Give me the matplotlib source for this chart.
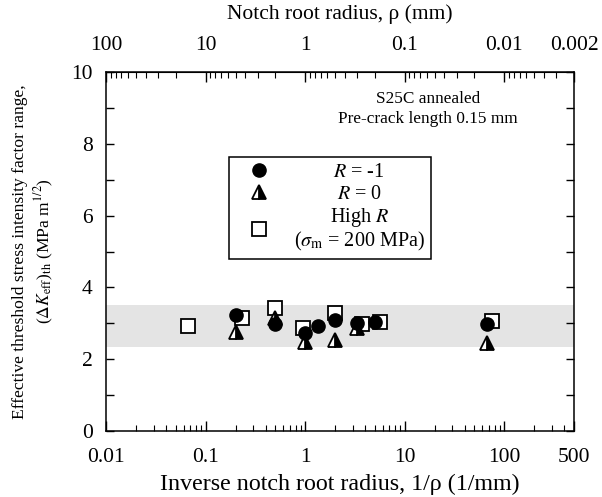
import matplotlib
matplotlib.use("Agg")
import matplotlib.pyplot as plt
from matplotlib.ticker import FixedLocator, LogLocator, NullFormatter, FixedFormatter, MultipleLocator
from matplotlib.lines import Line2D

plt.rcParams['font.family'] = ['Liberation Serif', 'DejaVu Serif']
plt.rcParams['mathtext.fontset'] = 'stix'
plt.rcParams['font.size'] = 14

# Data
circ_x = [0.2, 0.5, 1.0, 1.35, 2.0, 3.3, 5.0, 67]
circ_y = [3.22, 2.98, 2.72, 2.92, 3.08, 3.02, 3.05, 2.98]
tri_x = [0.2, 0.5, 1.0, 2.0, 3.3, 67]
tri_y = [2.77, 3.15, 2.47, 2.53, 2.87, 2.45]
sq_x = [0.067, 0.23, 0.5, 0.95, 2.0, 3.7, 5.6, 75]
sq_y = [2.93, 3.14, 3.43, 2.87, 3.28, 2.98, 3.04, 3.06]
band_lo, band_hi = 2.35, 3.5
bottom_ticks = [0.01, 0.1, 1, 10, 100, 500]
bottom_labels = ['0.01', '0.1', '1', '10', '100', '500']
top_ticks = [100, 10, 1, 0.1, 0.01, 0.002]
top_labels = ['100', '10', '1', '0.1', '0.01', '0.002']

TICK_FS = 15.5
fig = plt.figure(figsize=(6.02, 4.97), dpi=100)
W, H = 602, 497
L, R, T, B = 106, 574, 72, 431
ax = fig.add_axes([L / W, 1 - B / H, (R - L) / W, (B - T) / H])

ax.axhspan(band_lo, band_hi, color='#e4e4e4', lw=0, zorder=0)

ms = 9.5
ax.plot(sq_x, sq_y, ls='none', marker='s', ms=ms, mfc='white', mec='black', mew=1.3, zorder=3)
ax.plot(tri_x, tri_y, ls='none', marker='^', ms=ms + 1, mfc='black', mfcalt='white', fillstyle='right',
        mec='black', mew=1.3, zorder=4)
ax.plot(circ_x, circ_y, ls='none', marker='o', ms=ms, mfc='black', mec='black', zorder=5)

ax.set_xscale('log')
ax.set_xlim(0.01, 500)
ax.set_ylim(0, 10)
ax.xaxis.set_major_locator(FixedLocator(bottom_ticks))
ax.xaxis.set_major_formatter(FixedFormatter(bottom_labels))
ax.xaxis.set_minor_locator(LogLocator(base=10, subs=range(2, 10), numticks=20))
ax.xaxis.set_minor_formatter(NullFormatter())
ax.yaxis.set_major_locator(MultipleLocator(2))
ax.yaxis.set_minor_locator(MultipleLocator(1))
ax.tick_params(which='both', direction='in', top=False, right=True, labelsize=TICK_FS)
ax.tick_params(axis='x', which='major', length=7, width=1, pad=12)
ax.tick_params(axis='x', which='minor', length=4, width=0.8)
ax.tick_params(axis='y', which='both', length=6, width=1, pad=9.5)
for s in ax.spines.values():
    s.set_linewidth(1.1)

sec = ax.secondary_xaxis('top', functions=(lambda x: 1 / x, lambda x: 1 / x))
sec.xaxis.set_major_locator(FixedLocator(top_ticks))
sec.xaxis.set_major_formatter(FixedFormatter(top_labels))
sec.xaxis.set_minor_locator(LogLocator(base=10, subs=range(2, 10), numticks=20))
sec.xaxis.set_minor_formatter(NullFormatter())
sec.tick_params(which='both', direction='in', labelsize=TICK_FS)
sec.tick_params(which='major', length=7, width=1, pad=12.5)
sec.tick_params(which='minor', length=4, width=0.8)
sec.set_xlabel('Notch root radius, ρ (mm)', fontsize=15.5, labelpad=12)

ax.set_xlabel('Inverse notch root radius, 1/ρ (1/mm)', fontsize=17.3, labelpad=5)
ax.set_ylabel('Effective threshold stress intensity factor range,\n'
              r'($\Delta K_\mathrm{eff}$)$_\mathrm{th}$ (MPa m$^{1/2}$)', fontsize=12.6, labelpad=11,
              linespacing=1.3)

ax.text(0.688, 0.896, 'S25C annealed\nPre-crack length 0.15 mm', transform=ax.transAxes,
        ha='center', va='center', fontsize=12.4, linespacing=1.35)

handles = [
    Line2D([], [], ls='none', marker='o', ms=ms, mfc='black', mec='black'),
    Line2D([], [], ls='none', marker='^', ms=ms + 1, mfc='black', mfcalt='white', fillstyle='right',
           mec='black', mew=1.3),
    Line2D([], [], ls='none', marker='s', ms=ms, mfc='white', mec='black', mew=1.3),
]
labels = [r'$R$ = -1', r'$R$ = 0', 'High $R$\n' + r'($\sigma_\mathrm{m}$ = 200 MPa)']
leg = ax.legend(handles, labels, loc='upper left', bbox_to_anchor=((229 - L) / (R - L), (B - 157) / (B - T)),
                frameon=True, fancybox=False, edgecolor='black', framealpha=1,
                handlelength=2.39, handletextpad=0.52, borderpad=0.3, labelspacing=0.12,
                borderaxespad=0, fontsize=14.5)
leg.get_frame().set_linewidth(1.1)
for t in leg.get_texts():
    t.set_linespacing(1.05)
    t.set_multialignment('center')

fig.canvas.draw()
texts = leg.get_texts()
widths = [t.get_window_extent().width for t in texts]
maxw = max(widths)
for t, w in zip(texts, widths):
    t.set_position(((maxw - w) / 2, 0))

fig.savefig('out.png', dpi=100)
